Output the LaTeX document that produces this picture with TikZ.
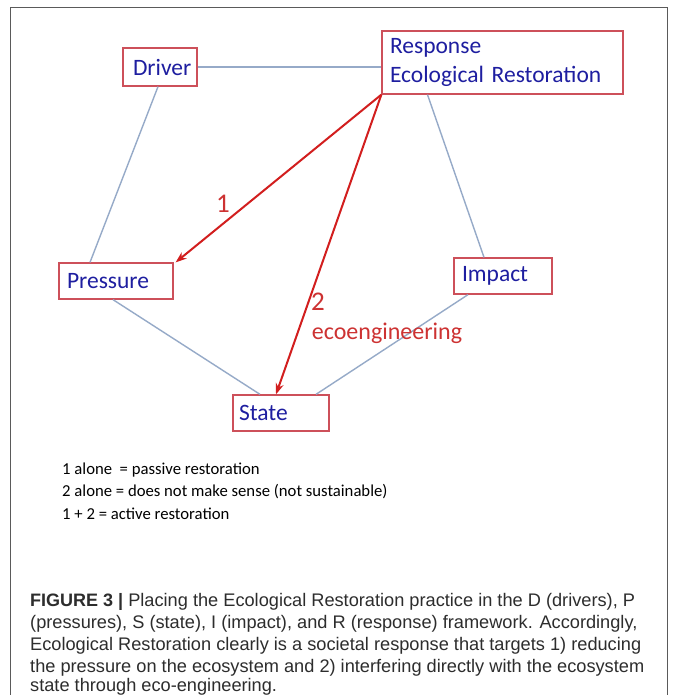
\documentclass[tikz,border=0pt]{standalone}
\usepackage{fontspec}
\setmainfont{Carlito}
\newfontfamily\capfont{Liberation Sans}
\usetikzlibrary{arrows.meta}
\definecolor{boxred}{RGB}{205,80,90}
\definecolor{txtblue}{RGB}{30,30,160}
\definecolor{linegrey}{RGB}{150,170,200}
\definecolor{arrred}{RGB}{210,30,30}
\definecolor{lblred}{RGB}{205,50,50}
\definecolor{framegrey}{RGB}{90,90,90}
\definecolor{capgrey}{RGB}{45,45,45}
\tikzset{
  box/.style={draw=boxred, line width=1.3pt, fill=white, text=txtblue, font=\fontsize{23.5}{28}\selectfont,
    inner sep=0pt, align=left, minimum height=#1},
  conn/.style={draw=linegrey, line width=1.4pt},
  redarrow/.style={draw=arrred, line width=2pt, -{Stealth[length=11pt,width=8pt]}},
  lbl/.style={text=lblred, inner sep=0pt},
  legend/.style={anchor=west, inner sep=0pt, font=\fontsize{16.7}{20}\selectfont},
  capline/.style={anchor=base west, inner sep=0pt, font=\capfont\fontsize{18.2}{22}\selectfont, text=capgrey}
}
\newcommand{\capbold}[1]{{\fontsize{18}{22}\selectfont\bfseries #1}}
\begin{document}
\begin{tikzpicture}[x=1pt,y=-1pt]
\useasboundingbox (0,0) rectangle (675,695);
\fill[white] (0,0) rectangle (675,695);
\draw[framegrey, line width=1pt] (10,700) -- (10,8) -- (667,8) -- (667,700);

% nodes
\node[box=38pt, minimum width=74pt, text width=54pt] (driver) at (160,67) {Driver};
\node[box=63pt, minimum width=241pt, text width=225pt, font=\fontsize{23.5}{29}\selectfont] (response) at (502.5,62.5) {Response\\Ecological Restoration};
\node[box=36pt, minimum width=114pt, text width=98pt] (pressure) at (116,281) {Pressure};
\node[box=36pt, minimum width=98pt, text width=82pt] (impact) at (503,276) {Impact};
\node[box=36pt, minimum width=96pt, text width=84pt] (state) at (281,413) {State};

% grey connectors
\draw[conn] (driver.east) -- (response.west |- driver.east);
\draw[conn] ([xshift=-2pt]driver.south) -- ([xshift=-26pt]pressure.north);
\draw[conn] ([xshift=-75pt]response.south) -- ([xshift=-19pt]impact.north);
\draw[conn] ([xshift=-3pt]pressure.south) -- ([xshift=-21pt]state.north);
\draw[conn] ([xshift=-35pt]impact.south) -- ([xshift=35pt]state.north);

% red arrows
\draw[redarrow] (response.south west) -- ([xshift=2pt]pressure.north east);
\draw[redarrow] (response.south west) -- ([xshift=-5pt]state.north);
\node[lbl, font=\fontsize{27}{30}\selectfont] (one) at (223,204) {1};
\node[lbl, font=\fontsize{27}{30}\selectfont] (two) at (318,302) {2};
\node[lbl, font=\fontsize{24}{28}\selectfont] (eco) at (387,333) {ecoengineering};

% legend
\node[legend] (l1) at (62,470) {1 alone\ \ = passive restoration};
\node[legend] (l2) at (62,492) {2 alone = does not make sense (not sustainable)};
\node[legend] (l3) at (62,514) {1 + 2 = active restoration};

% caption
\node[capline] (c1) at (30,606) {\capbold{FIGURE 3 |} Placing the Ecological Restoration practice in the D (drivers), P};
\node[capline] (c2) at (30,628) {(pressures), S (state), I (impact), and R (response) framework. Accordingly,};
\node[capline] (c3) at (30,650) {Ecological Restoration clearly is a societal response that targets 1) reducing};
\node[capline] (c4) at (30,672) {the pressure on the ecosystem and 2) interfering directly with the ecosystem};
\node[capline] (c5) at (30,691.5) {state through eco-engineering.};
\end{tikzpicture}
\end{document}
